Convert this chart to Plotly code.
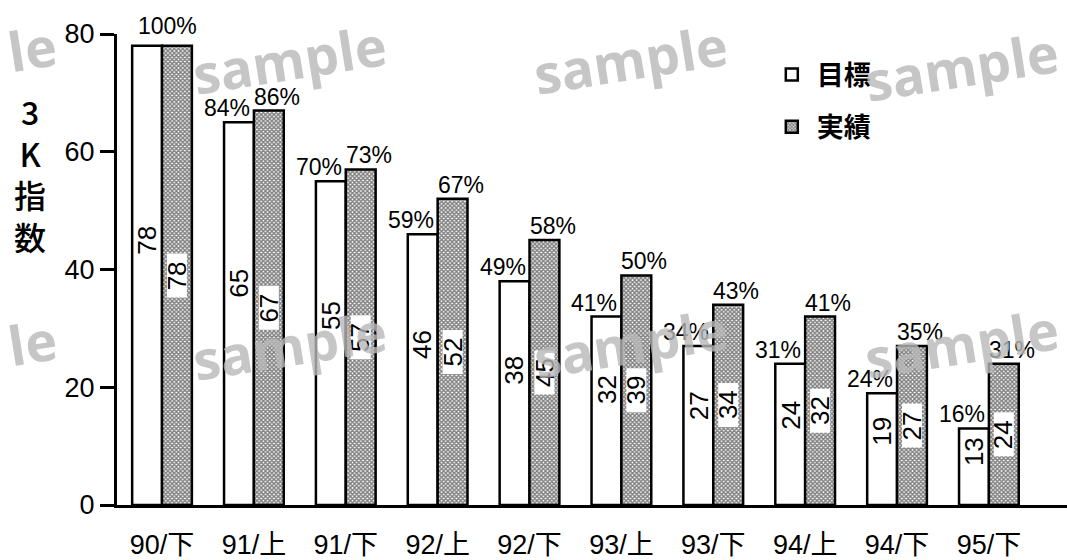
import plotly.graph_objects as go

# --- data -----------------------------------------------------------------
periods = ["90/下", "91/上", "91/下", "92/上", "92/下", "93/上", "93/下", "94/上", "94/下", "95/下"]
target = [78, 65, 55, 46, 38, 32, 27, 24, 19, 13]
actual = [78, 67, 57, 52, 45, 39, 34, 32, 27, 24]
target_pct = [100, 84, 70, 59, 49, 41, 34, 31, 24, 16]
actual_pct = [100, 86, 73, 67, 58, 50, 43, 41, 35, 31]
y_ticks = [0, 20, 40, 60, 80]

# --- styling ----------------------------------------------------------------
FONT = "Liberation Sans, Arial, Noto Sans CJK JP, sans-serif"
CJK = "Noto Sans CJK JP, Liberation Sans, sans-serif"
BAR_GAP = 0.35
BAR_W = (1 - BAR_GAP) / 2          # width of one bar in category units
OUTLINE = dict(color="black", width=2.5)

x = list(range(len(periods)))

fig = go.Figure()
fig.add_trace(go.Bar(
    x=x, y=target, name="目標", legendgroup="t",
    marker=dict(color="white", line=OUTLINE),
))
fig.add_trace(go.Bar(
    x=x, y=actual, name="実績", legendgroup="a",
    marker=dict(
        color="white", line=OUTLINE,
        pattern=dict(shape="x", size=3, solidity=0.7, fgcolor="black", bgcolor="white"),
    ),
))

annotations = []
shapes = []

# values written inside the bars (rotated)
for i, (t, a) in enumerate(zip(target, actual)):
    annotations.append(dict(
        x=i - BAR_W / 2, y=t * 0.55 + 2, xref="x", yref="y", text=str(t),
        textangle=-90, showarrow=False, font=dict(family=FONT, size=26, color="black"),
    ))
    # white plate behind the value on the patterned bar
    shapes.append(dict(
        type="rect", xref="x", yref="y", layer="above",
        xsizemode="pixel", xanchor=i + BAR_W / 2, x0=-10, x1=10,
        ysizemode="pixel", yanchor=a / 2, y0=-22, y1=22,
        fillcolor="white", line=dict(width=0),
    ))
    annotations.append(dict(
        x=i + BAR_W / 2, y=a / 2, xref="x", yref="y", text=str(a),
        textangle=-90, showarrow=False, font=dict(family=FONT, size=26, color="black"),
    ))

# percentage labels above the bars
for i, (t, a, tp, ap) in enumerate(zip(target, actual, target_pct, actual_pct)):
    if tp == ap:
        annotations.append(dict(
            x=i, y=max(t, a), xref="x", yref="y", text=f"{tp}%", showarrow=False,
            xanchor="center", yanchor="bottom", xshift=5, yshift=5,
            font=dict(family=FONT, size=23, color="black"),
        ))
    else:
        annotations.append(dict(
            x=i, y=t, xref="x", yref="y", text=f"{tp}%", showarrow=False,
            xanchor="right", yanchor="bottom", xshift=-2, yshift=-1,
            font=dict(family=FONT, size=23, color="black"),
        ))
        annotations.append(dict(
            x=i, y=a, xref="x", yref="y", text=f"{ap}%", showarrow=False,
            xanchor="left", yanchor="bottom", xshift=-2, yshift=-1,
            font=dict(family=FONT, size=23, color="black"),
        ))

# vertical axis title
annotations.append(dict(
    x=-0.092, y=0.703, xref="paper", yref="paper", text="3<br>K<br>指<br>数",
    showarrow=False, xanchor="center", yanchor="middle",
    font=dict(family=CJK, size=32, color="black", weight=500),
))

# "sample" watermark stamped across the page
WM_FONT = dict(family="Open Sans", size=54, color="#b8b8b8", weight=700)
for text, wx, wy in [
    ("le", -0.090, 0.970), ("sample", 0.182, 0.946), ("sample", 0.54, 0.946), ("sample", 0.889, 0.932),
    ("le", -0.090, 0.347), ("sample", 0.182, 0.340), ("sample", 0.54, 0.345), ("sample", 0.889, 0.345),
]:
    annotations.append(dict(
        x=wx, y=wy, xref="paper", yref="paper", text=text, showarrow=False,
        textangle=-9, xanchor="center", yanchor="middle", opacity=0.8, font=WM_FONT,
    ))

fig.update_layout(
    width=1067, height=560,
    margin=dict(l=117, r=0, t=34, b=47),
    paper_bgcolor="white", plot_bgcolor="white",
    barmode="group", bargap=BAR_GAP, bargroupgap=0,
    font=dict(family=FONT, color="black"),
    showlegend=True,
    legend=dict(
        x=0.684, y=0.965, xanchor="left", yanchor="top",
        font=dict(family=CJK, size=27, color="black", weight=700),
        tracegroupgap=14, bgcolor="rgba(0,0,0,0)", itemwidth=40,
    ),
    annotations=annotations,
    shapes=shapes,
    xaxis=dict(
        range=[-0.49, 9.85], tickvals=x, ticktext=periods,
        showline=True, linecolor="black", linewidth=3,
        ticks="", ticklabelstandoff=14, showgrid=False, zeroline=False,
        tickfont=dict(family=FONT, size=27, color="black"),
    ),
    yaxis=dict(
        range=[0, 80], tickvals=y_ticks,
        showline=True, linecolor="black", linewidth=3,
        ticks="outside", ticklen=14, tickwidth=2.5, tickcolor="black",
        showgrid=False, zeroline=False,
        tickfont=dict(family=FONT, size=27, color="black"),
    ),
)

fig.write_html("out.html")
